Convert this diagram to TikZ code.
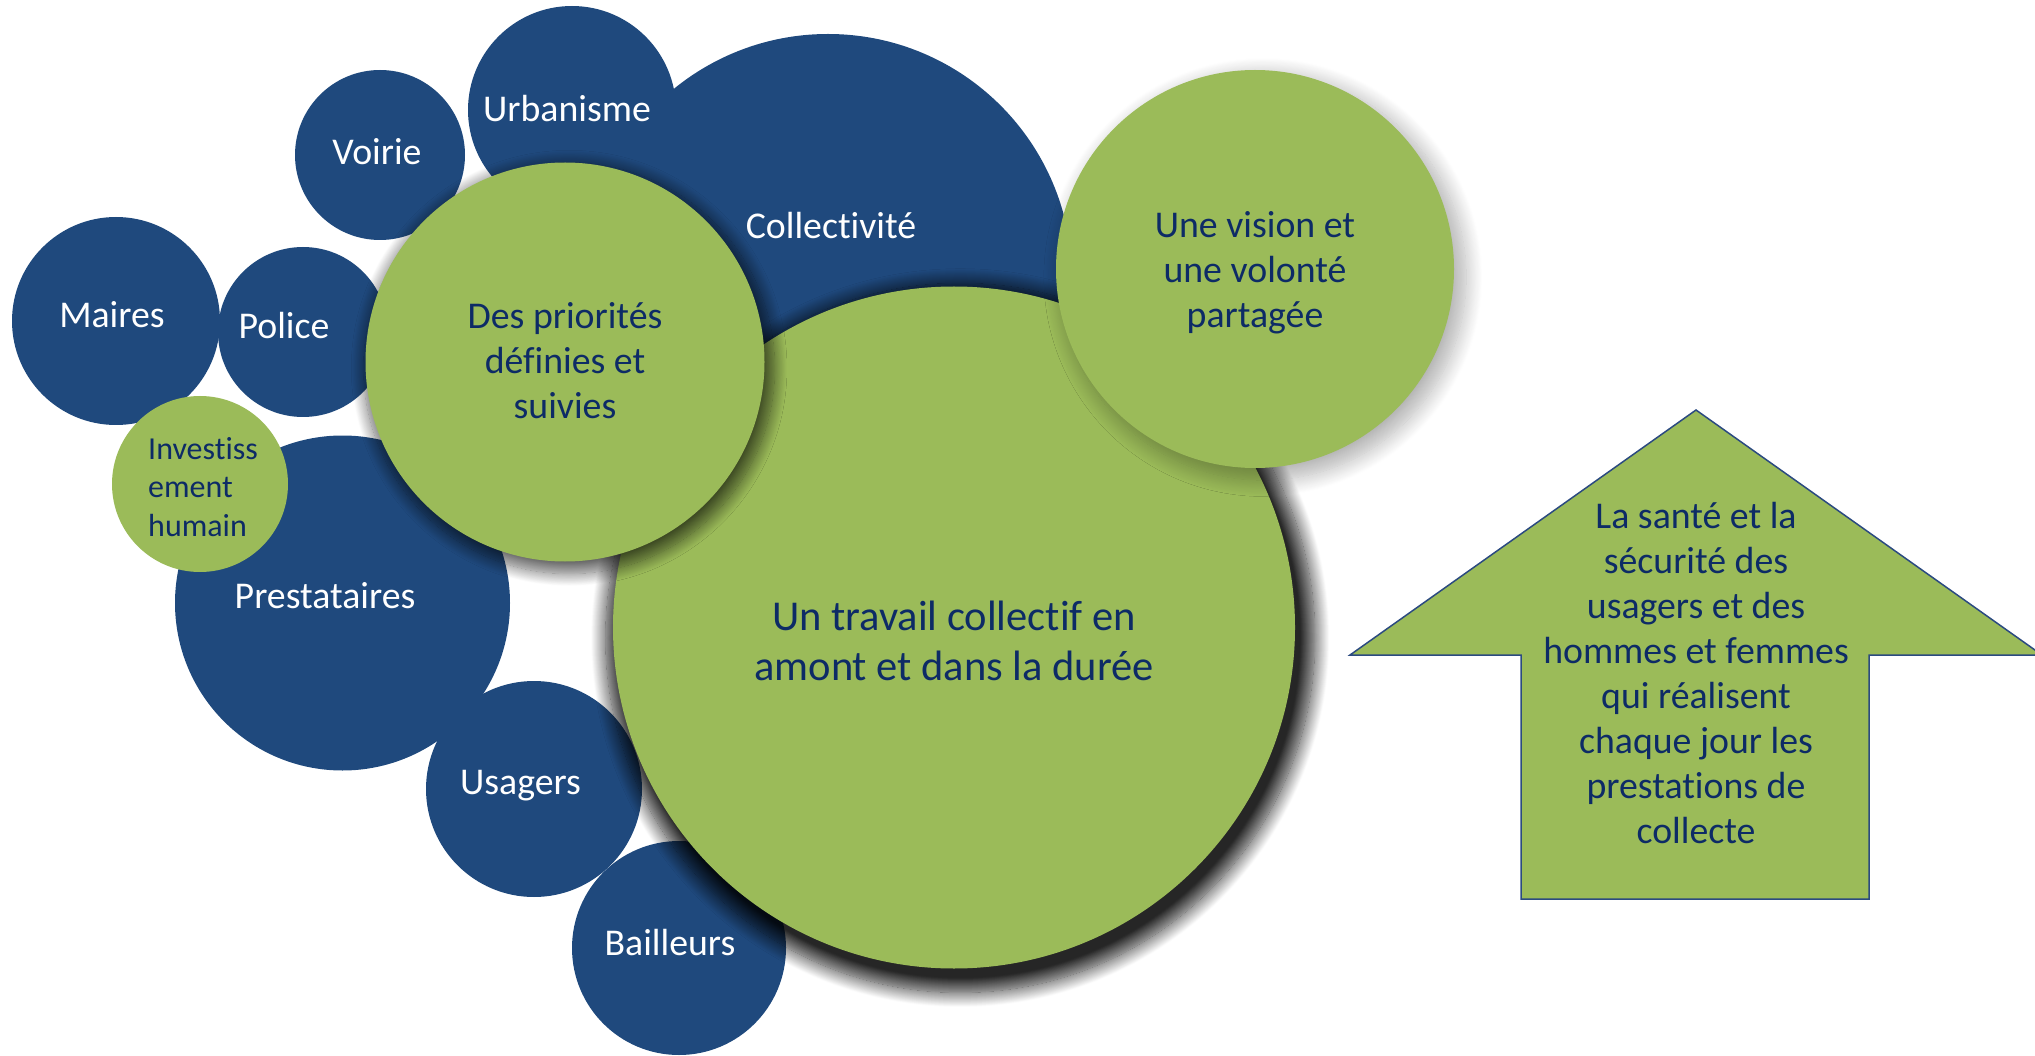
\documentclass[tikz,border=0pt]{standalone}
\usepackage{fontspec}
\setmainfont{Carlito}[Ligatures={NoCommon}]
\usetikzlibrary{shadows.blur}
\definecolor{bblue}{HTML}{1F497D}
\definecolor{bgreen}{HTML}{9BBB59}
\definecolor{tnavy}{HTML}{0D2B66}
\definecolor{aline}{HTML}{2B4A80}
\tikzset{
  bubble/.style={circle, inner sep=0pt, outer sep=0pt, minimum size=#1},
  bluebub/.style={bubble=#1, fill=bblue},
  greenbub/.style={bubble=#1, fill=bgreen},
  wlabel/.style={text=white, font=\fontsize{37.8}{45}\selectfont, anchor=base, inner sep=0pt},
  glabel/.style={text=tnavy, font=\fontsize{37.8}{45}\selectfont, align=center, inner sep=0pt},
}
\begin{document}
\begin{tikzpicture}[x=1pt,y=-1pt]
\useasboundingbox (0,0) rectangle (2035,1056);
% blue bubbles
\node[bluebub=488pt] (col) at (828,278) {};
\node[bluebub=208pt] (urb) at (572,110) {};
\node[bluebub=170pt] (voi) at (380,155) {};
\node[bluebub=208pt] (mai) at (116,321) {};
\node[bluebub=170pt] (pol) at (303,332) {};
\node[bluebub=335pt] (pre) at (342.5,603) {};
\node[bluebub=216pt] (usa) at (534,789) {};
\node[bluebub=214pt] (bai) at (679,948) {};
% green bubbles
\node[greenbub=176pt] (inv) at (200,484) {};
\node[greenbub=682pt, blur shadow={shadow scale=1.04, shadow xshift=6pt, shadow yshift=-10pt, shadow blur radius=14pt, shadow blur steps=20, shadow opacity=85}] (tra) at (954,627.5) {};
\node[greenbub=398pt, blur shadow={shadow scale=1.02, shadow xshift=8pt, shadow yshift=-8pt, shadow blur radius=16pt, shadow blur steps=20, shadow opacity=30}] (vis) at (1255,269) {};
\node[greenbub=399pt, blur shadow={shadow scale=1.03, shadow xshift=4pt, shadow yshift=-6pt, shadow blur radius=12pt, shadow blur steps=20, shadow opacity=60}] (pri) at (565,362) {};
% arrow
\coordinate (ap) at (1696,410);
\coordinate (ar) at (2042,655);
\coordinate (asr) at (1869,655);
\coordinate (abr) at (1869,899);
\coordinate (abl) at (1521,899);
\coordinate (asl) at (1521,655);
\coordinate (al) at (1350,655);
\draw[fill=bgreen, draw=aline, line width=1.5pt, line join=miter] (ap) -- (ar) -- (asr) -- (abr) -- (abl) -- (asl) -- (al) -- cycle;
% labels
\node[wlabel] (turb) at (567,121.7) {Urbanisme};
\node[wlabel] (tvoi) at (377,165) {Voirie};
\node[wlabel] (tcol) at (831,239) {Collectivité};
\node[wlabel] (tmai) at (112,328) {Maires};
\node[wlabel] (tpol) at (284,338.7) {Police};
\node[wlabel] (tpre) at (325,608) {Prestataires};
\node[wlabel] (tusa) at (520.5,794.6) {Usagers};
\node[wlabel] (tbai) at (670,955) {Bailleurs};
\node[glabel] (tpri) at (565,361) {Des priorités\\définies et\\suivies};
\node[glabel] (tvis) at (1255,273) {Une vision et\\une volonté\\partagée};
\node[glabel, font=\fontsize{42.5}{50.6}\selectfont] (ttra) at (954,641) {Un travail collectif en\\amont et dans la durée};
\node[glabel] (tarr) at (1696,673) {La santé et la\\sécurité des\\usagers et des\\hommes et femmes\\qui réalisent\\chaque jour les\\prestations de\\collecte};
\node[glabel, align=left, anchor=west, font=\fontsize{32}{38.5}\selectfont] (tinv) at (148,487) {Investiss\\ement\\humain};
\end{tikzpicture}
\end{document}
